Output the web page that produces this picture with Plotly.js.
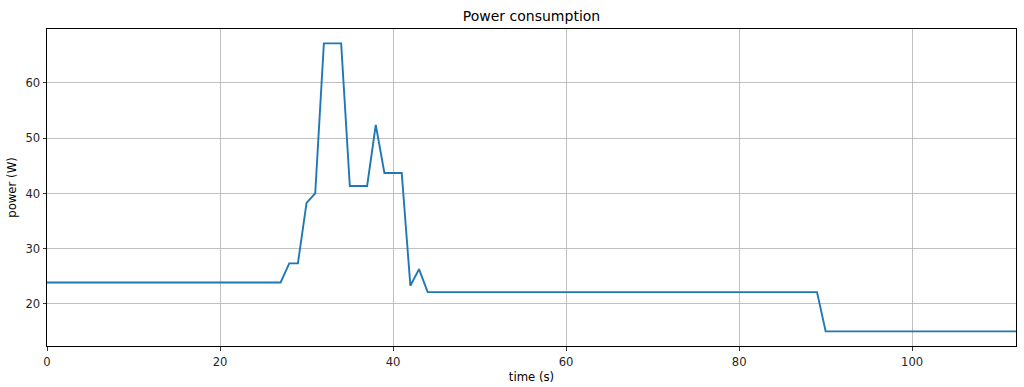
<!DOCTYPE html>
<html>
<head>
<meta charset="utf-8">
<script src="https://cdn.plot.ly/plotly-3.0.1.min.js"></script>
<style>html,body{margin:0;padding:0;background:#fff;}#chart{width:1024px;height:387px;}</style>
</head>
<body>
<div id="chart"></div>
<script>
const timeS = [0,1,2,3,4,5,6,7,8,9,10,11,12,13,14,15,16,17,18,19,20,21,22,23,24,25,26,27,28,29,30,31,32,33,34,35,36,37,38,39,40,41,42,43,44,45,46,47,48,49,50,51,52,53,54,55,56,57,58,59,60,61,62,63,64,65,66,67,68,69,70,71,72,73,74,75,76,77,78,79,80,81,82,83,84,85,86,87,88,89,90,91,92,93,94,95,96,97,98,99,100,101,102,103,104,105,106,107,108,109,110,111,112];
const powerW = [
  23.9,23.9,23.9,23.9,23.9,23.9,23.9,23.9,23.9,23.9,
  23.9,23.9,23.9,23.9,23.9,23.9,23.9,23.9,23.9,23.9,
  23.9,23.9,23.9,23.9,23.9,23.9,23.9,23.9,
  27.35,27.35,
  38.3,40.0,
  67.15,67.15,67.15,
  41.35,41.35,41.35,
  52.4,
  43.7,43.7,43.7,
  23.3,
  26.3,
  22.15,22.15,22.15,22.15,22.15,22.15,22.15,22.15,22.15,22.15,
  22.15,22.15,22.15,22.15,22.15,22.15,22.15,22.15,22.15,22.15,
  22.15,22.15,22.15,22.15,22.15,22.15,22.15,22.15,22.15,22.15,
  22.15,22.15,22.15,22.15,22.15,22.15,22.15,22.15,22.15,22.15,
  22.15,22.15,22.15,22.15,22.15,22.15,
  15.05,15.05,15.05,15.05,15.05,15.05,15.05,15.05,15.05,15.05,
  15.05,15.05,15.05,15.05,15.05,15.05,15.05,15.05,15.05,15.05,
  15.05,15.05,15.05
];
const titleText = "Power consumption";
const xLabel = "time (s)";
const yLabel = "power (W)";

const font = {family: "DejaVu Sans", size: 11.6, color: "#262626"};
const axisCommon = {
  showline: true, linecolor: "#000", linewidth: 1, mirror: true,
  showgrid: true, gridcolor: "#b0b0b0", gridwidth: 0.8,
  ticks: "outside", ticklen: 3.5, tickwidth: 0.8, tickcolor: "#000",
  zeroline: false, tickfont: {family: "DejaVu Sans", size: 11.6, color: "#262626"}
};
Plotly.newPlot("chart", [{
  x: timeS, y: powerW, type: "scatter", mode: "lines",
  line: {color: "#1f77b4", width: 1.9}, hoverinfo: "none"
}], {
  width: 1024, height: 387,
  margin: {l: 47, r: 8, t: 29, b: 41, pad: 0},
  paper_bgcolor: "#fff", plot_bgcolor: "#fff",
  font: font, showlegend: false,
  title: {text: titleText, x: 0.5, xref: "paper", y: 1, yref: "container", yanchor: "top", pad: {t: 11}, font: {family: "DejaVu Sans", size: 14, color: "#000"}},
  xaxis: Object.assign({}, axisCommon, {
    range: [0, 112], tickvals: [0,20,40,60,80,100], ticklabelstandoff: 2,
    title: {text: xLabel, standoff: 4, font: {family: "DejaVu Sans", size: 11.7, color: "#000"}}
  }),
  yaxis: Object.assign({}, axisCommon, {
    range: [12.4, 69.75], tickvals: [20,30,40,50,60],
    title: {text: yLabel, standoff: 6, font: {family: "DejaVu Sans", size: 11.7, color: "#000"}}
  })
}, {staticPlot: true});
</script>
</body>
</html>
